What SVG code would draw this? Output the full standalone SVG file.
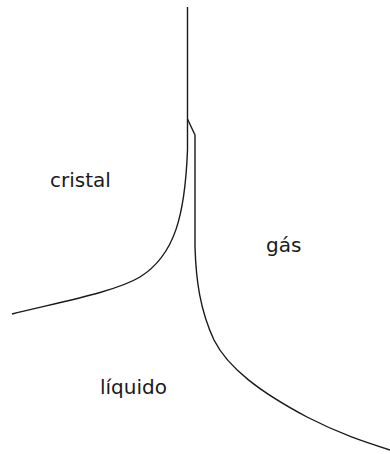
<svg xmlns="http://www.w3.org/2000/svg" width="390" height="454" viewBox="0 0 390 454">
<style>
.ln{fill:none;stroke:#1a1a1a;stroke-width:1.4;stroke-linejoin:round}
.lb{font-family:"DejaVu Sans",Verdana,sans-serif;font-size:20px;fill:#1a1a1a}
</style>
<rect width="390" height="454" fill="#ffffff"/>
<g id="connectors">
<path class="ln" d="M187.5,7 L187.5,150 C185,215 175,255 140,277 C115,292 60,302 12,314"/>
<path class="ln" d="M187.5,119 L195,135 L195,247 C196,280 200,310 214,340 C228,368 260,392 307,417 C340,434 365,442 390,450"/>
</g>
<g id="cristal"><text class="lb" x="50" y="187">cristal</text></g>
<g id="gas"><text class="lb" x="266" y="252">gás</text></g>
<g id="liquido"><text class="lb" x="100" y="394">líquido</text></g>
</svg>
